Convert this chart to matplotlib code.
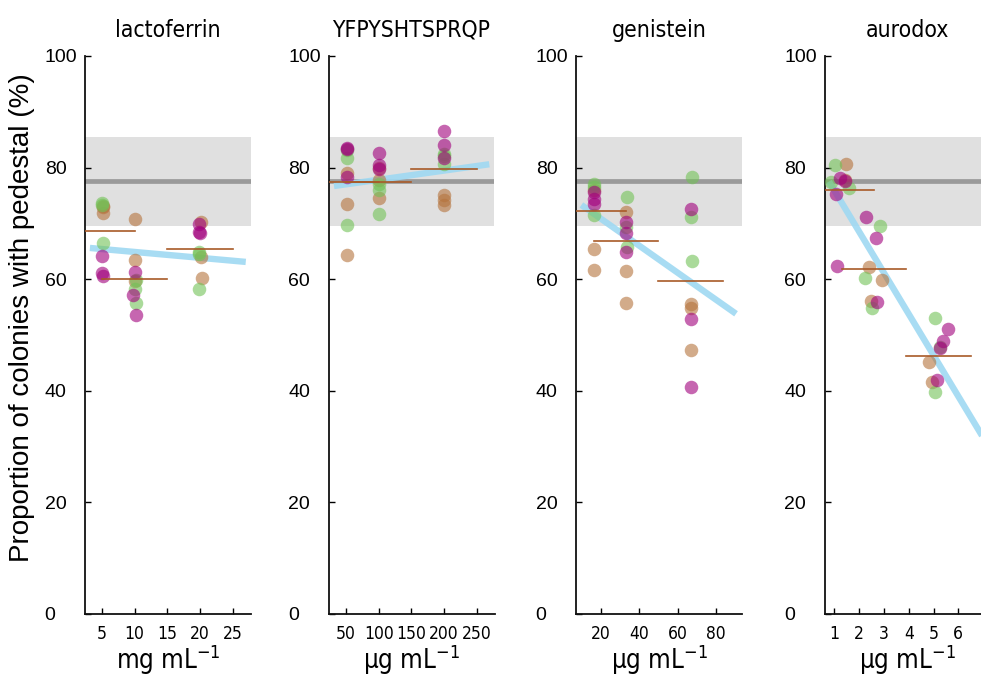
import matplotlib
matplotlib.use("Agg")
import matplotlib.pyplot as plt

# ---------------- data ----------------
titles = ["lactoferrin", "YFPYSHTSPRQP", "genistein", "aurodox"]
xlabels = ["mg mL$^{-1}$", "\u00b5g mL$^{-1}$", "\u00b5g mL$^{-1}$", "\u00b5g mL$^{-1}$"]
xticks = [[5, 10, 15, 20, 25], [50, 100, 150, 200, 250], [20, 40, 60, 80], [1, 2, 3, 4, 5, 6]]
xlims = [(2.4, 27.8), (23, 277.6), (7.2, 93.4), (0.6, 7.3)]
yticks = [0, 20, 40, 60, 80, 100]

# control reference: band and line
control_low, control_high, control_mean = 69.6, 85.5, 77.6

# lactoferrin
lac_green_x = [4.95, 5.0, 5.1, 10.2, 10.1, 10.2, 19.8, 19.9, 19.8]
lac_green_y = [73.6, 73.3, 66.4, 59.9, 58.2, 55.8, 64.8, 64.6, 58.2]
lac_brown_x = [5.15, 5.2, 5.1, 10.0, 10.1, 10.0, 20.1, 20.2, 20.3]
lac_brown_y = [73.2, 72.9, 71.8, 70.7, 63.4, 59.7, 70.2, 63.9, 60.3]
lac_mag_x = [4.95, 5.0, 5.2, 10.0, 9.8, 10.2, 19.9, 19.9, 20.0]
lac_mag_y = [64.2, 61.1, 60.5, 61.3, 57.1, 53.5, 69.9, 68.5, 68.2]
lac_mean_x = [5, 10, 20]
lac_mean_y = [68.6, 60.0, 65.4]
lac_fit_x = [3.15, 27.0]
lac_fit_y = [65.6, 63.1]

# YFPYSHTSPRQP
yfp_green_x = [51, 51, 51, 100, 100, 100, 200, 200, 200]
yfp_green_y = [83.2, 81.8, 69.7, 77.1, 76.0, 71.7, 82.4, 82.0, 80.6]
yfp_brown_x = [51, 51, 51, 100, 100, 100, 200, 200, 200]
yfp_brown_y = [79.0, 73.4, 64.3, 77.7, 74.5, 80.0, 75.1, 74.2, 73.3]
yfp_mag_x = [51, 51, 51, 100, 100, 100, 200, 200, 200]
yfp_mag_y = [83.6, 83.4, 78.4, 82.6, 80.4, 79.8, 86.6, 84.1, 81.7]
yfp_mean_x = [50, 100, 200]
yfp_mean_y = [77.5, 77.4, 79.7]
yfp_fit_x = [31.4, 269.6]
yfp_fit_y = [76.7, 80.6]

# genistein
gen_green_x = [16.4, 16.4, 16.4, 33.6, 33.4, 33.5, 67.2, 67.0, 67.2]
gen_green_y = [77.0, 76.6, 71.5, 74.7, 69.3, 65.7, 78.4, 71.2, 63.3]
gen_brown_x = [16.3, 16.4, 16.3, 33.4, 33.4, 33.4, 67.0, 67.0, 67.0]
gen_brown_y = [75.9, 65.5, 61.6, 72.1, 61.5, 55.8, 55.5, 54.9, 47.4]
gen_mag_x = [16.3, 16.4, 16.3, 33.4, 33.4, 33.3, 67.0, 67.0, 67.0]
gen_mag_y = [75.6, 74.3, 73.5, 70.2, 68.3, 64.8, 72.6, 52.8, 40.6]
gen_mean_x = [16.7, 33.3, 66.7]
gen_mean_y = [72.3, 66.9, 59.6]
gen_fit_x = [10.0, 90.3]
gen_fit_y = [73.3, 53.8]

# aurodox
aur_green_x = [1.03, 0.87, 1.58, 2.85, 2.22, 2.51, 5.07, 5.28, 5.04]
aur_green_y = [80.5, 77.5, 76.4, 69.5, 60.3, 54.9, 53.0, 47.8, 39.7]
aur_brown_x = [1.48, 1.41, 2.38, 2.93, 2.49, 4.83, 4.93]
aur_brown_y = [80.6, 77.8, 62.1, 59.9, 56.1, 45.2, 41.5]
aur_mag_x = [1.24, 1.41, 1.05, 1.10, 2.26, 2.66, 2.73, 5.58, 5.38, 5.28, 5.15]
aur_mag_y = [78.1, 77.6, 75.3, 62.4, 71.1, 67.3, 55.9, 51.1, 49.0, 47.6, 41.9]
aur_mean_x = [1.3, 2.6, 5.2]
aur_mean_y = [76.0, 61.9, 46.2]
aur_fit_x = [0.78, 7.02]
aur_fit_y = [77.5, 31.5]

panels = [
    dict(green=(lac_green_x, lac_green_y), brown=(lac_brown_x, lac_brown_y), mag=(lac_mag_x, lac_mag_y),
         mean=(lac_mean_x, lac_mean_y), fit=(lac_fit_x, lac_fit_y)),
    dict(green=(yfp_green_x, yfp_green_y), brown=(yfp_brown_x, yfp_brown_y), mag=(yfp_mag_x, yfp_mag_y),
         mean=(yfp_mean_x, yfp_mean_y), fit=(yfp_fit_x, yfp_fit_y)),
    dict(green=(gen_green_x, gen_green_y), brown=(gen_brown_x, gen_brown_y), mag=(gen_mag_x, gen_mag_y),
         mean=(gen_mean_x, gen_mean_y), fit=(gen_fit_x, gen_fit_y)),
    dict(green=(aur_green_x, aur_green_y), brown=(aur_brown_x, aur_brown_y), mag=(aur_mag_x, aur_mag_y),
         mean=(aur_mean_x, aur_mean_y), fit=(aur_fit_x, aur_fit_y)),
]

# ---------------- style ----------------
plt.rcParams["mathtext.fontset"] = "custom"
plt.rcParams["mathtext.rm"] = "DejaVu Sans:stretch=condensed"
plt.rcParams["mathtext.it"] = "DejaVu Sans:stretch=condensed"
plt.rcParams["mathtext.default"] = "regular"

C_GREEN = "#72c257"
C_BROWN = "#b5733c"
C_MAG = "#a1007c"
C_MEANLINE = "#a85a28"
C_FIT = "#9fd9f2"
C_BAND = "#e0e0e0"
C_CTRL = "#9a9a9a"
COND = dict(family="DejaVu Sans", stretch="condensed")

W, H = 981, 676
fig = plt.figure(figsize=(W / 100, H / 100), dpi=100)
lefts = [85, 328.5, 576, 824.5]
ax_w, ax_bottom, ax_h = 166, 62, 558

for i, p in enumerate(panels):
    ax = fig.add_axes([lefts[i] / W, ax_bottom / H, ax_w / W, ax_h / H])
    ax.set_xlim(*xlims[i])
    ax.set_ylim(0, 100)
    ax.axhspan(control_low, control_high, color=C_BAND, lw=0, zorder=0)
    ax.axhline(control_mean, color=C_CTRL, lw=3.4, zorder=1)
    fx, fy = p["fit"]
    ax.plot(fx, fy, color=C_FIT, lw=4.6, alpha=0.9, solid_capstyle="butt", zorder=2)
    for key, col in (("brown", C_BROWN), ("green", C_GREEN), ("mag", C_MAG)):
        xs, ys = p[key]
        ax.scatter(xs, ys, s=95, color=col, alpha=0.6, lw=0, zorder=3)
    mx, my = p["mean"]
    hw = mx[0]
    for cx, cy in zip(mx, my):
        ax.plot([cx - hw, cx + hw], [cy, cy], color=C_MEANLINE, lw=1.2, zorder=4)
    for side in ("top", "right"):
        ax.spines[side].set_visible(False)
    for side in ("left", "bottom"):
        ax.spines[side].set_linewidth(1.3)
        ax.spines[side].set_color("#111111")
    ax.set_xticks(xticks[i])
    ax.set_xticklabels([str(t) for t in xticks[i]], fontsize=12.5, **COND)
    ax.set_yticks(yticks)
    ax.set_yticklabels([str(t) for t in yticks], fontsize=14, family="Liberation Sans", ha="left")
    ax.tick_params(axis="x", direction="in", length=4, width=1, pad=8)
    ax.tick_params(axis="y", direction="in", length=4, width=1, pad=29)
    ax.set_xlabel(xlabels[i], fontsize=18.5, labelpad=-0.5, **COND)
    ax.set_title(titles[i], fontsize=16.5, pad=14, **COND)

fig.text(22 / W, 1 - 318 / H, "Proportion of colonies with pedestal (%)", rotation=90,
         ha="center", va="center", fontsize=20, family="Liberation Sans")

fig.savefig("out.png", dpi=100)
